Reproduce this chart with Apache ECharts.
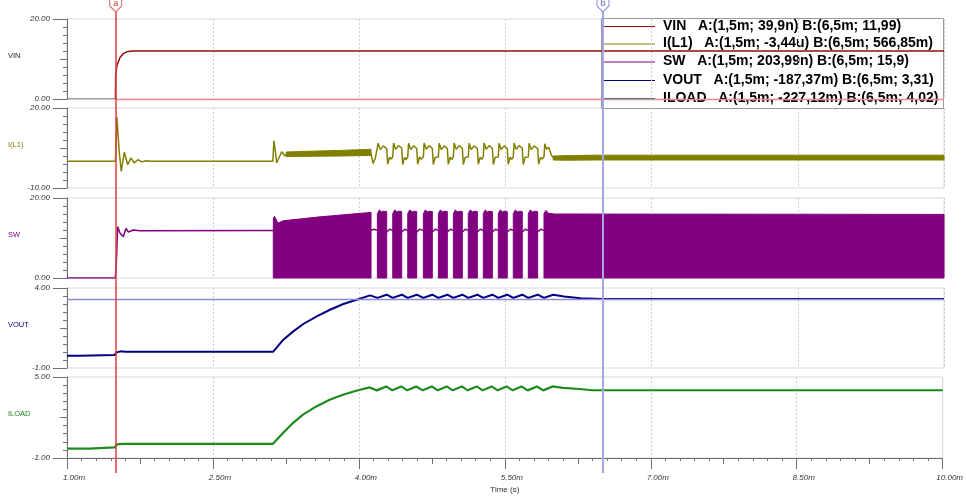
<!DOCTYPE html>
<html><head><meta charset="utf-8">
<script src="https://cdn.jsdelivr.net/npm/echarts@6/dist/echarts.min.js"></script>
<style>html,body{margin:0;padding:0;background:#fff}#c{width:966px;height:496px}</style>
</head><body><div id="c"></div>
<script>
// ---------- axes / labels ----------
const timeTicks = [1.0, 2.5, 4.0, 5.5, 7.0, 8.5, 10.0];
const timeMidTicks = [1.75, 3.25, 4.75, 6.25, 7.75, 9.25];
const panelNames = ['VIN', 'I(L1)', 'SW', 'VOUT', 'ILOAD'];
const panelMin = [0, -10, 0, -1, -1];
const panelMax = [20, 20, 20, 4, 5];
const panelColors = ['#8b1010', '#808000', '#800080', '#000080', '#1e8a1e'];
const panelNameColors = ['#222222', '#808000', '#800080', '#000080', '#1e8a1e'];
const legendColors = ['#8b1010', '#808000', '#800080', '#000080', '#008080'];
const legendTexts = [
  'VIN   A:(1,5m; 39,9n) B:(6,5m; 11,99)',
  'I(L1)   A:(1,5m; -3,44u) B:(6,5m; 566,85m)',
  'SW   A:(1,5m; 203,99n) B:(6,5m; 15,9)',
  'VOUT   A:(1,5m; -187,37m) B:(6,5m; 3,31)',
  'ILOAD   A:(1,5m; -227,12m) B:(6,5m; 4,02)'
];
const cursorA = 1.5, cursorB = 6.5;
const cursorLevelVIN = 0, cursorLevelVOUT = 3.31;

// ---------- VIN ----------
const vinPre = [[1.0,0],[1.497,0]];
const vin = [[1.497,0],[1.499,5.9],[1.513,8.4],[1.544,10.4],[1.578,11.35],[1.626,11.9],[1.677,12.0],[10.0,12.0]];

// ---------- I(L1) ----------
const ilPre = [[1.0,0],[1.497,0],[1.505,8],[1.512,16.6],[1.535,4],[1.557,-3.8],[1.588,3.5],[1.623,-1.3],[1.657,1.3],[1.688,-0.6],[1.729,0.6],[1.77,-0.2],[1.811,0.2],[1.87,0],[3.112,0],[3.124,7.8],[3.152,-0.6],[3.203,3.6],[3.237,2.0],[3.25,2.6]];
const ilBand1Hi = [[3.25,3.5],[3.5,3.8],[3.8,4.1],[4.12,4.5]];
const ilBand1Lo = [[3.25,1.8],[3.5,1.9],[3.8,2.0],[4.12,2.2]];
const ilMid = [[4.120,3.0],[4.140,-0.8],[4.165,1.3],[4.185,1.6],[4.193,6.8],[4.215,4.4],[4.245,5.8],[4.281,4.8],[4.291,-1.1],[4.310,1.6],[4.325,0.8],[4.343,1.7],
 [4.351,6.9],[4.373,4.5],[4.403,5.9],[4.435,4.9],[4.445,-1.2],[4.464,1.5],[4.479,0.7],[4.497,1.6],
 [4.505,6.8],[4.527,4.4],[4.557,5.8],[4.589,4.8],[4.599,-1.1],[4.618,1.6],[4.635,0.8],[4.657,1.7],
 [4.665,6.9],[4.687,4.5],[4.717,5.9],[4.749,4.9],[4.759,-1.2],[4.778,1.5],[4.793,0.8],[4.811,1.6],
 [4.819,6.8],[4.841,4.4],[4.871,5.8],[4.903,4.8],[4.913,-1.1],[4.932,1.6],[4.947,0.7],[4.965,1.7],
 [4.973,6.9],[4.995,4.5],[5.025,5.9],[5.057,4.9],[5.067,-1.2],[5.086,1.5],[5.101,0.8],[5.118,1.6],
 [5.126,6.8],[5.148,4.4],[5.178,5.8],[5.211,4.8],[5.221,-1.1],[5.240,1.6],[5.255,0.7],[5.272,1.7],
 [5.280,6.9],[5.302,4.5],[5.332,5.9],[5.365,4.9],[5.375,-1.2],[5.394,1.5],[5.409,0.8],[5.426,1.6],
 [5.434,6.8],[5.456,4.4],[5.486,5.8],[5.518,4.8],[5.528,-1.1],[5.547,1.6],[5.562,0.7],[5.580,1.7],
 [5.588,6.9],[5.610,4.5],[5.640,5.9],[5.672,4.9],[5.682,-1.2],[5.701,1.5],[5.716,0.8],[5.734,1.6],
 [5.742,6.8],[5.764,4.4],[5.794,5.8],[5.830,4.8],[5.840,-1.1],[5.859,1.6],[5.874,0.8],[5.895,1.7],
 [5.903,6.6],[5.920,4.6],[5.945,5.2],[5.970,2.4],[5.990,1.3]];
const ilBand2Hi = [[5.99,2.0],[6.1,2.1],[6.4,2.3],[10.0,2.3]];
const ilBand2Lo = [[5.99,0.5],[6.1,0.4],[6.4,0.5],[10.0,0.5]];

// ---------- SW ----------
const swLine = [[1.0,0],[1.495,0],[1.505,3],[1.52,12.8],[1.545,11.2],[1.578,10.3],[1.605,12.4],[1.63,11.5],[1.68,12.0],[1.75,11.8],[3.117,11.9],
 [4.120,11.9],[4.150,12.2],[4.185,11.9],[4.281,11.5],[4.311,12.2],[4.343,11.9],[4.435,11.5],[4.465,12.2],[4.497,11.9],
 [4.589,11.5],[4.619,12.2],[4.657,11.9],[4.749,11.5],[4.779,12.2],[4.811,11.9],[4.903,11.5],[4.933,12.2],[4.965,11.9],
 [5.057,11.5],[5.087,12.2],[5.118,11.9],[5.211,11.5],[5.241,12.2],[5.272,11.9],[5.365,11.5],[5.395,12.2],[5.426,11.9],
 [5.518,11.5],[5.548,12.2],[5.580,11.9],[5.672,11.5],[5.702,12.2],[5.734,11.9],[5.830,11.5],[5.860,12.2],[5.895,11.9]];
const swBlock0 = [[3.117,12.0],[3.119,15.0],[3.13,15.4],[3.165,13.7],[3.217,14.3],[3.6,15.3],[4.12,16.4]];
const swBursts = [
 [[4.185,16.1],[4.205,17.0],[4.230,16.5],[4.245,16.7],[4.281,16.6]],
 [[4.343,16.1],[4.363,17.0],[4.388,16.5],[4.403,16.7],[4.435,16.6]],
 [[4.497,16.1],[4.517,17.0],[4.542,16.5],[4.557,16.7],[4.589,16.6]],
 [[4.657,16.1],[4.677,17.0],[4.702,16.5],[4.717,16.7],[4.749,16.6]],
 [[4.811,16.1],[4.831,17.0],[4.856,16.5],[4.871,16.7],[4.903,16.6]],
 [[4.965,16.1],[4.985,17.0],[5.010,16.5],[5.025,16.7],[5.057,16.6]],
 [[5.118,16.1],[5.138,17.0],[5.163,16.5],[5.178,16.7],[5.211,16.6]],
 [[5.272,16.1],[5.292,17.0],[5.317,16.5],[5.332,16.7],[5.365,16.6]],
 [[5.426,16.1],[5.446,17.0],[5.471,16.5],[5.486,16.7],[5.518,16.6]],
 [[5.580,16.1],[5.600,17.0],[5.625,16.5],[5.640,16.7],[5.672,16.6]],
 [[5.734,16.1],[5.754,17.0],[5.779,16.5],[5.794,16.7],[5.830,16.6]]
];
const swBlockLast = [[5.895,16.1],[5.915,16.9],[5.94,16.2],[6.0,16.0],[10.0,15.9]];

// ---------- VOUT ----------
const vout = [[1.0,-0.24],[1.13,-0.23],[1.135,-0.19],[1.49,-0.18],[1.505,-0.03],[1.55,0.04],[1.6,0.02],[3.117,0.02],
 [3.220,0.77],[3.322,1.29],[3.425,1.75],[3.563,2.23],[3.699,2.64],[3.836,3.00],[3.973,3.27],[4.110,3.54],[4.127,3.58],
 [4.185,3.38],[4.281,3.58],[4.343,3.38],[4.435,3.58],[4.497,3.38],[4.589,3.58],[4.657,3.38],[4.749,3.58],[4.811,3.38],
 [4.903,3.58],[4.965,3.38],[5.057,3.58],[5.118,3.38],[5.211,3.58],[5.272,3.38],[5.365,3.58],[5.426,3.38],[5.518,3.58],
 [5.580,3.38],[5.672,3.58],[5.734,3.38],[5.830,3.58],[5.895,3.38],[5.99,3.58],[6.1,3.47],[6.27,3.36],[6.5,3.31],[10.0,3.31]];

// ---------- ILOAD ----------
const iload = [[1.0,-0.30],[1.23,-0.30],[1.235,-0.25],[1.49,-0.22],[1.5,-0.1],[1.505,-0.04],[1.53,0.03],[1.6,0.05],[3.117,0.05],
 [3.220,0.85],[3.322,1.59],[3.425,2.21],[3.563,2.82],[3.699,3.32],[3.836,3.69],[3.973,3.98],[4.110,4.23],[4.127,4.30],
 [4.185,4.01],[4.281,4.30],[4.343,4.01],[4.435,4.30],[4.497,4.01],[4.589,4.30],[4.657,4.01],[4.749,4.30],[4.811,4.01],
 [4.903,4.30],[4.965,4.01],[5.057,4.30],[5.118,4.01],[5.211,4.30],[5.272,4.01],[5.365,4.30],[5.426,4.01],[5.518,4.30],
 [5.580,4.01],[5.672,4.30],[5.734,4.01],[5.830,4.30],[5.895,4.01],[5.99,4.30],[6.1,4.20],[6.27,4.11],[6.4,4.02],[10.0,4.02]];

// ================= build =================
const FONT = '"Liberation Sans", Arial, sans-serif';
const gridTops = [19, 108, 198, 288, 377];
const gridHeights = [80, 80, 80, 80, 81];
const AX = '#707070';
const CUR_A = '#dd3f3f', CUR_B = '#a6a6e4';

const grids = gridTops.map((t, i) => ({left: 67, right: 22, top: t, height: gridHeights[i], show: true, borderColor: '#d8d8d8', borderWidth: 1}));
grids.push({left: 67, right: 22, top: 12, height: 461, show: false});

const xAxes = [];
for (let i = 0; i < 5; i++) {
  xAxes.push({
    type: 'value', gridIndex: i, min: 1, max: 10, position: 'bottom',
    axisLine: {show: i === 4, onZero: false, lineStyle: {color: AX}},
    axisTick: {show: i === 4, length: 11, customValues: timeTicks, lineStyle: {color: AX}},
    axisLabel: {show: i === 4, customValues: timeTicks, formatter: v => v.toFixed(2) + 'm', fontStyle: 'italic', fontSize: 8, color: '#333', fontFamily: FONT, margin: 16, padding: [0, 0, 0, 14]},
    splitLine: {show: true, lineStyle: {color: '#cfcfcf', width: 1, type: [2, 2]}},
    name: i === 4 ? 'Time (s)' : '', nameLocation: 'middle', nameGap: 28,
    nameTextStyle: {fontSize: 8, color: '#333', fontFamily: FONT}
  });
}
const minorX = [];
for (let k = 0; k <= 60; k++) minorX.push(+(1 + k * 0.15).toFixed(3));
xAxes.push({type: 'value', gridIndex: 4, min: 1, max: 10, position: 'bottom', offset: 0, axisLine: {show: false, onZero: false}, axisTick: {show: true, length: 6, customValues: timeMidTicks, lineStyle: {color: AX}}, axisLabel: {show: false}, splitLine: {show: false}});
xAxes.push({type: 'value', gridIndex: 4, min: 1, max: 10, position: 'bottom', offset: 0, axisLine: {show: false, onZero: false}, axisTick: {show: true, length: 3, customValues: minorX, lineStyle: {color: AX}}, axisLabel: {show: false}, splitLine: {show: false}});
xAxes.push({type: 'value', gridIndex: 5, min: 1, max: 10, show: false});

const yAxes = [];
for (let i = 0; i < 5; i++) {
  const mn = panelMin[i], mx = panelMax[i], step = (mx - mn) / 10;
  const minor = [];
  for (let k = 0; k <= 10; k++) minor.push(+(mn + k * step).toFixed(4));
  const base = {type: 'value', gridIndex: i, min: mn, max: mx, position: 'left', offset: 0, splitLine: {show: false}};
  yAxes.push(Object.assign({}, base, {
    axisLine: {show: true, onZero: false, lineStyle: {color: AX}},
    axisTick: {show: true, length: 4, customValues: minor, lineStyle: {color: AX}},
    axisLabel: {show: true, customValues: [mn, mx], margin: 17, formatter: v => v.toFixed(2), fontStyle: 'italic', fontSize: 8, color: '#333', fontFamily: FONT}
  }));
  yAxes.push(Object.assign({}, base, {axisLine: {show: false, onZero: false}, axisTick: {show: true, length: 7, customValues: [(mn + mx) / 2], lineStyle: {color: AX}}, axisLabel: {show: false}}));
  yAxes.push(Object.assign({}, base, {axisLine: {show: false, onZero: false}, axisTick: {show: true, length: 14, customValues: [mn, mx], lineStyle: {color: AX}}, axisLabel: {show: false}}));
}
yAxes.push({type: 'value', gridIndex: 5, min: 0, max: 1, show: false});

function lineS(data, g, color, width, extra) {
  return Object.assign({type: 'line', xAxisIndex: g, yAxisIndex: g * 3, data: data, showSymbol: false, symbol: 'none',
    lineStyle: {color: color, width: width}, itemStyle: {color: color}, silent: true, z: 2}, extra || {});
}
function bandS(g, color, bands) {
  return {
    type: 'custom', xAxisIndex: g, yAxisIndex: g * 3, silent: true, z: 2,
    data: bands.map(b => [b.hi[0][0], b.hi[0][1]]), encode: {x: 0, y: 1},
    renderItem: function (params, api) {
      const b = bands[params.dataIndex];
      const pts = [];
      b.hi.forEach(p => pts.push(api.coord(p)));
      for (let k = b.lo.length - 1; k >= 0; k--) pts.push(api.coord(b.lo[k]));
      return {type: 'polygon', shape: {points: pts}, style: {fill: color, stroke: color, lineWidth: 1}};
    }
  };
}
function cursorS(t, letter, color, lineColor, width) {
  return {
    type: 'scatter', xAxisIndex: 7, yAxisIndex: 15, silent: true, z: 6, clip: false,
    symbol: 'path://M2,0 L10,0 Q12,0 12,2 L12,7 L6,13 L0,7 L0,2 Q0,0 2,0 Z', symbolSize: [12, 13], symbolOffset: [0, -6.5],
    itemStyle: {color: '#ffffff', borderColor: color, borderWidth: 1},
    label: {show: true, position: 'inside', formatter: letter, color: color, fontSize: 9, fontWeight: 'bold', fontFamily: FONT, offset: [0, -2]},
    data: [[t, 1]],
    markLine: {silent: true, symbol: 'none', z: 5, label: {show: false},
      lineStyle: {color: lineColor, width: width, type: 'solid', opacity: 1},
      itemStyle: {color: lineColor},
      data: [{xAxis: t}]}
  };
}
const swBlocks = [swBlock0].concat(swBursts, [swBlockLast]).map(b => ({hi: b, lo: [[b[0][0], 0], [b[b.length - 1][0], 0]]}));

const series = [
  lineS(vinPre, 0, '#555555', 1.2),
  lineS(vin, 0, panelColors[0], 1.5, {markLine: {silent: true, symbol: 'none', z: 5, label: {show: false},
    lineStyle: {color: '#f08a8a', width: 1.4, type: 'solid'}, itemStyle: {color: '#f08a8a'},
    data: [[{coord: [cursorA, cursorLevelVIN]}, {coord: [10, cursorLevelVIN]}]]}}),
  lineS(ilPre, 1, panelColors[1], 1.5),
  lineS(ilMid, 1, panelColors[1], 1.5),
  bandS(1, panelColors[1], [{hi: ilBand1Hi, lo: ilBand1Lo}, {hi: ilBand2Hi, lo: ilBand2Lo}]),
  lineS(swLine, 2, panelColors[2], 1.5),
  bandS(2, panelColors[2], swBlocks),
  lineS(vout, 3, panelColors[3], 2, {markLine: {silent: true, symbol: 'none', z: 5, label: {show: false},
    lineStyle: {color: '#8c8cd8', width: 1.3, type: 'solid'}, itemStyle: {color: '#8c8cd8'}, data: [{yAxis: cursorLevelVOUT}]}}),
  lineS(iload, 4, panelColors[4], 2.2),
  cursorS(cursorA, 'a', '#d03a3a', CUR_A, 1.5),
  cursorS(cursorB, 'b', '#6a6ad0', CUR_B, 2)
];

const rowY = [26, 43.5, 61.5, 80, 98];
const legendChildren = [{type: 'rect', shape: {x: 601.5, y: 18.5, width: 342, height: 90}, style: {fill: '#fff', stroke: '#9a9a9a', lineWidth: 1}}];
legendTexts.forEach((t, i) => {
  legendChildren.push({type: 'line', shape: {x1: 603, y1: rowY[i] + 0.5, x2: 655, y2: rowY[i] + 0.5}, style: {stroke: legendColors[i], lineWidth: 1}});
  legendChildren.push({type: 'text', x: 663, y: rowY[i], style: {text: t, font: 'bold 14px ' + FONT, fill: '#000', verticalAlign: 'middle', textVerticalAlign: 'middle'}});
});
const nameY = [56, 145, 235, 325, 414];
const graphics = [{type: 'group', z: 3, children: legendChildren}];
panelNames.forEach((n, i) => graphics.push({type: 'text', x: 8, y: nameY[i], z: 3,
  style: {text: n, font: '7.5px ' + FONT, fill: panelNameColors[i], verticalAlign: 'middle', textVerticalAlign: 'middle'}}));

const chart = echarts.init(document.getElementById('c'), null, {renderer: 'canvas'});
chart.setOption({
  animation: false, backgroundColor: '#fff',
  grid: grids, xAxis: xAxes, yAxis: yAxes, series: series, graphic: graphics
});
</script></body></html>
